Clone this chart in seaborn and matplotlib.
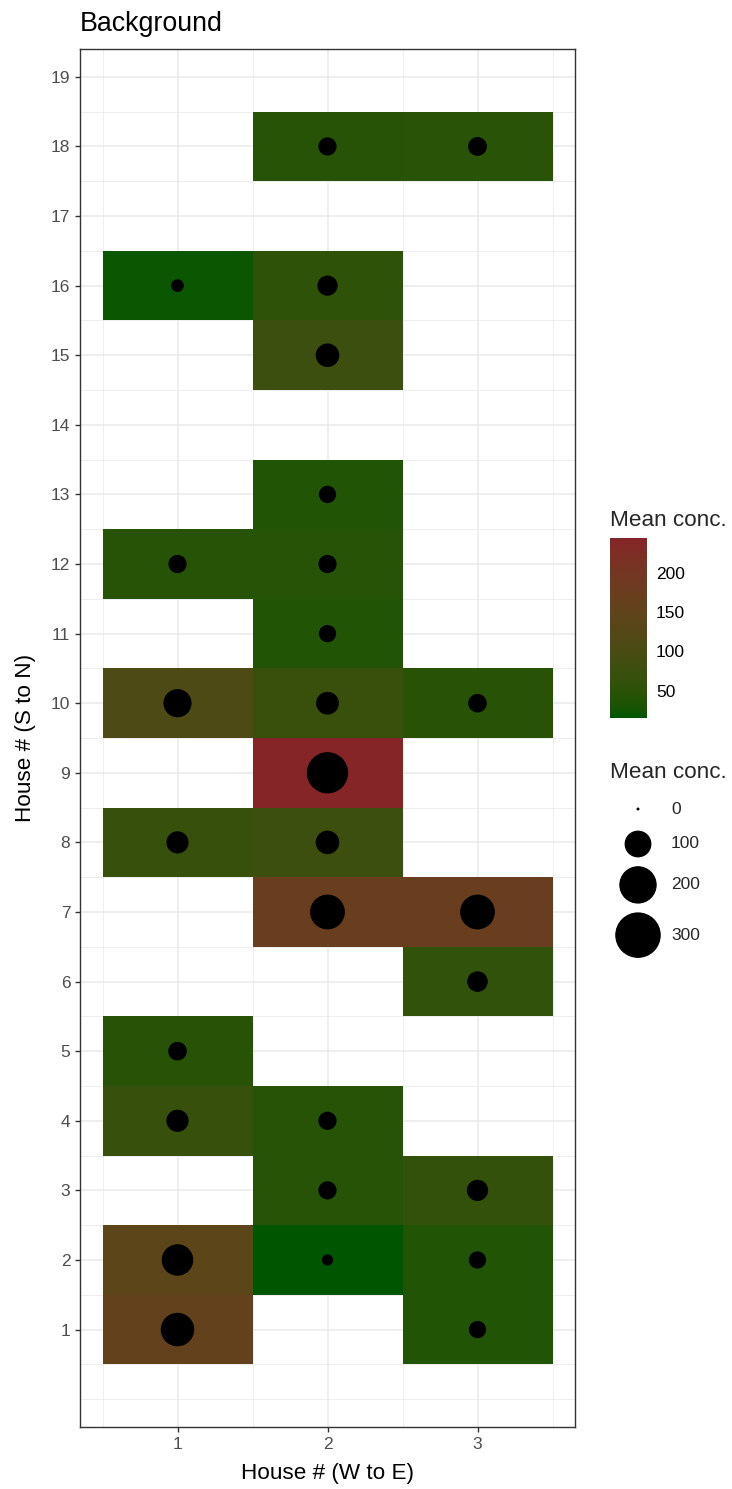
# Background: mean concentration per house, tiles + sized points
import numpy as np
import pandas as pd
import matplotlib as mpl
import matplotlib.pyplot as plt
import seaborn as sns
from matplotlib.colors import ListedColormap, Normalize, to_rgb

# data
house_we = [1, 1, 1, 1, 1, 1, 1, 1,
            2, 2, 2, 2, 2, 2, 2, 2, 2, 2, 2, 2, 2,
            3, 3, 3, 3, 3, 3, 3]
house_sn = [1, 2, 4, 5, 8, 10, 12, 16,
            2, 3, 4, 7, 8, 9, 10, 11, 12, 13, 15, 16, 18,
            1, 2, 3, 6, 7, 10, 18]
mean_conc = [159, 140, 67, 46, 67, 111, 44, 20,
             15, 44, 44, 172, 76, 245, 71, 39, 44, 39, 76, 55, 44,
             39, 39, 61, 57, 172, 46, 47]
size_breaks = [0, 100, 200, 300]
colour_breaks = [50, 100, 150, 200]

df = pd.DataFrame({'we': house_we, 'sn': house_sn, 'conc': mean_conc})

sns.set_theme(style='white')
plt.rcParams['font.family'] = ['Liberation Sans', 'DejaVu Sans']

# gradient in Lab space (like ggplot's scale_fill_gradient)
M = np.array([[0.4124, 0.3576, 0.1805],
              [0.2126, 0.7152, 0.0722],
              [0.0193, 0.1192, 0.9505]])
WHITE = np.array([0.95047, 1.0, 1.08883])


def to_lab(c):
    c = np.asarray(c, float)
    lin = np.where(c <= 0.04045, c / 12.92, ((c + 0.055) / 1.055) ** 2.4)
    xyz = M @ lin / WHITE
    f = np.where(xyz > 0.008856, np.cbrt(xyz), 7.787 * xyz + 16 / 116)
    return np.array([116 * f[1] - 16, 500 * (f[0] - f[1]), 200 * (f[1] - f[2])])


def from_lab(lab):
    L, a, b = lab
    fy = (L + 16) / 116
    f = np.array([fy + a / 500, fy, fy - b / 200])
    xyz = np.where(f ** 3 > 0.008856, f ** 3, (f - 16 / 116) / 7.787) * WHITE
    lin = np.clip(np.linalg.inv(M) @ xyz, 0, 1)
    c = np.where(lin <= 0.0031308, 12.92 * lin, 1.055 * lin ** (1 / 2.4) - 0.055)
    return np.clip(c, 0, 1)


lo, hi = to_lab(to_rgb('#005600')), to_lab(to_rgb('#852528'))
cmap = ListedColormap([from_lab(lo + t * (hi - lo)) for t in np.linspace(0, 1, 256)])
cmap.set_bad((0, 0, 0, 0))
norm = Normalize(min(mean_conc), max(mean_conc))

W, H = 732, 1489
fig = plt.figure(figsize=(W / 100, H / 100), dpi=100)
ax = fig.add_axes([80 / W, 1 - 1427 / H, 495 / W, 1378 / H])

# tiles
grid = df.pivot(index='sn', columns='we', values='conc').reindex(range(1, 19))
xe = np.arange(0.5, grid.shape[1] + 1)
ye = np.arange(0.5, grid.shape[0] + 1)
mesh = ax.pcolormesh(xe, ye, np.ma.masked_invalid(grid.values), cmap=cmap, norm=norm, zorder=1)

# points, area proportional to value
pt_per_unit = 3.384
sns.scatterplot(data=df, x='we', y='sn', size='conc', sizes=(0, pt_per_unit * 300),
                size_norm=(0, 300), color='black', edgecolor='black', linewidth=0.9,
                legend=False, ax=ax, zorder=3)

ax.set_xlim(0.35, 3.65)
ax.set_ylim(-0.4, 19.4)
ax.set_xticks([1, 2, 3])
ax.set_xticks([0.5, 1.5, 2.5, 3.5], minor=True)
ax.set_yticks(range(1, 20))
ax.set_yticks(np.arange(0, 19.5, 0.5), minor=True)
ax.grid(True, which='major', color='#EBEBEB', lw=1.2, zorder=0)
ax.grid(True, which='minor', color='#EBEBEB', lw=0.6, zorder=0)
ax.set_axisbelow(True)
ax.tick_params(which='major', length=3.5, width=1, color='#333333', labelcolor='#4D4D4D',
               labelsize=12.5, pad=3.5, bottom=True, left=True)
ax.tick_params(which='minor', length=0)
for s in ax.spines.values():
    s.set_color('#333333')
    s.set_linewidth(1.0)
    s.set_visible(True)

ax.set_xlabel('House # (W to E)', fontsize=16.2, color='black')
ax.set_ylabel('House # (S to N)', fontsize=16.2, color='black')
ax.xaxis.set_label_coords(0.5, -0.026)
ax.yaxis.set_label_coords(-0.088, 0.5)
ax.set_title('Background', loc='left', fontsize=19.3, color='black', pad=13)

# colour bar
cax = fig.add_axes([610 / W, 1 - 718 / H, 37 / W, 180 / H])
cb = fig.colorbar(mesh, cax=cax, ticks=colour_breaks)
cb.outline.set_visible(False)
cax.yaxis.set_ticks_position('both')
cax.tick_params(direction='in', length=5, width=0.9, color='white', labelsize=12.5,
                labelcolor='black', pad=6.5, left=True, right=True, labelleft=False, labelright=True)
fig.text(610 / W, 1 - 521 / H, 'Mean conc.', fontsize=16.2, va='center', ha='left')

# size legend
fig.text(610 / W, 1 - 773 / H, 'Mean conc.', fontsize=16.2, va='center', ha='left')
lax = fig.add_axes([0, 0, 1, 1])
lax.set_xlim(0, W)
lax.set_ylim(H, 0)
lax.axis('off')
diam = [0.75 + 2.555 * np.sqrt(b) for b in size_breaks]
heights = [max(d + 9.3, 34.4) for d in diam]
centres = [809.0]
for i in range(1, len(size_breaks)):
    centres.append(centres[-1] + (heights[i - 1] + heights[i]) / 2)
lax.scatter([638] * len(size_breaks), centres, s=[max(pt_per_unit * b, 1.5) for b in size_breaks],
            color='black', edgecolor='black', linewidth=0.9)
for b, yc in zip(size_breaks, centres):
    lax.text(671, yc, str(b), fontsize=12.5, va='center', ha='left')

fig.savefig('out.png', dpi=100)
